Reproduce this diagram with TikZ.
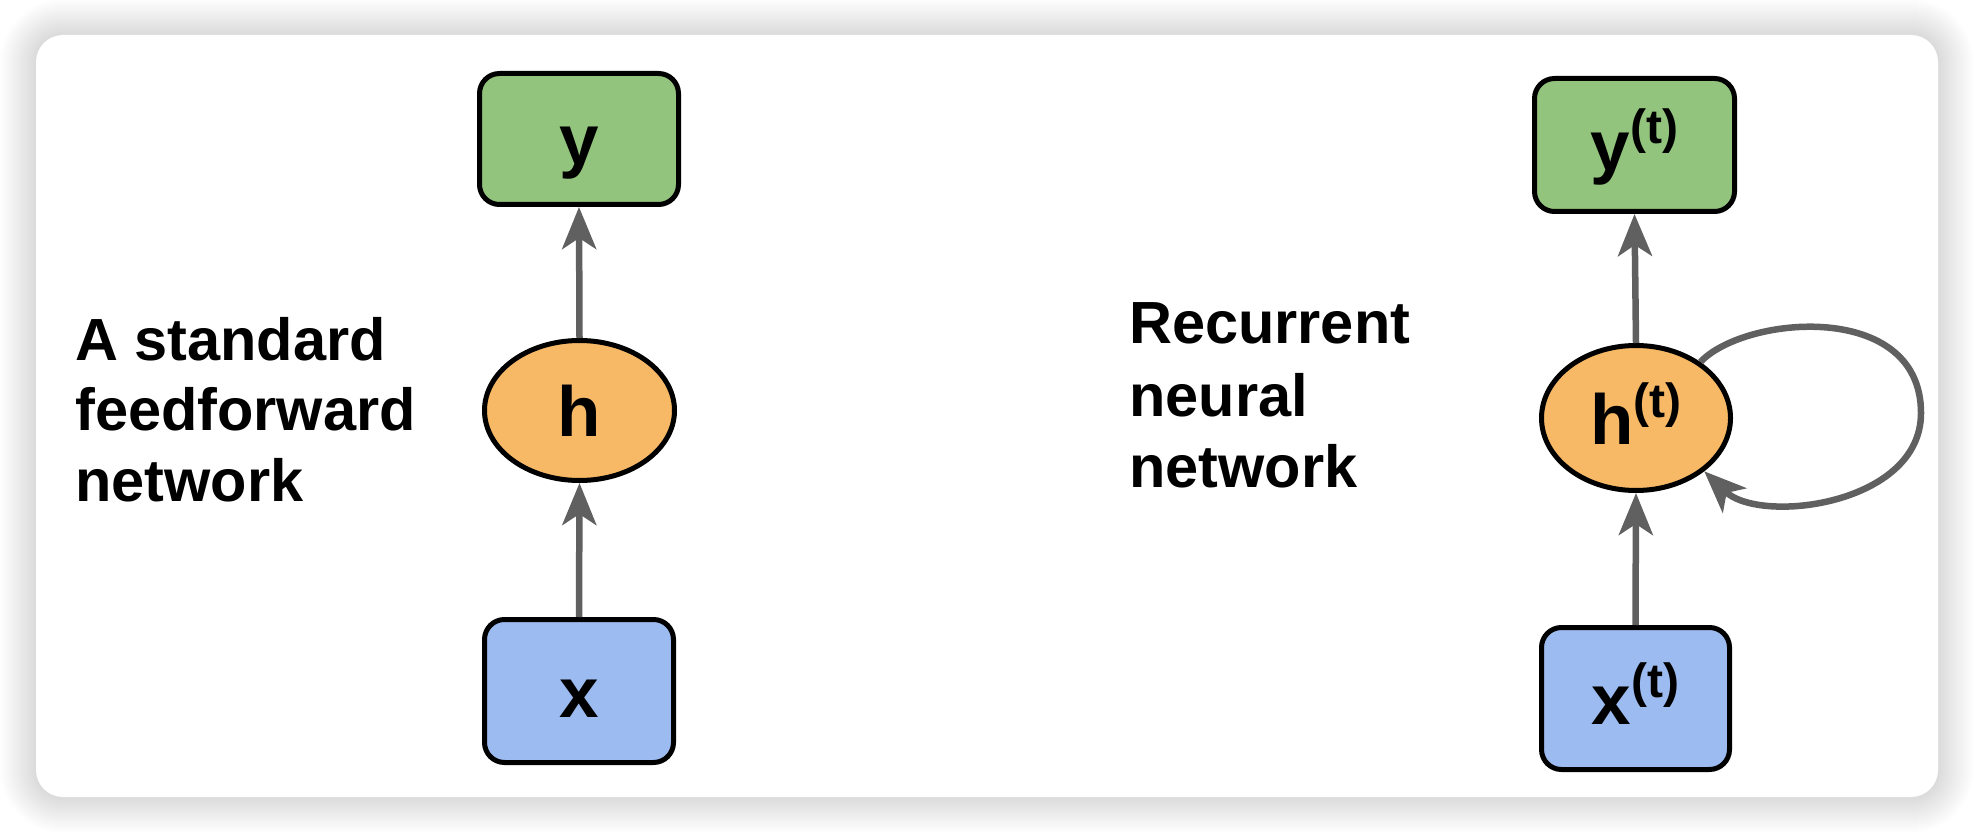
\documentclass[tikz,border=0pt]{standalone}
\usepackage{fontspec}
\setmainfont{Liberation Sans}
\usetikzlibrary{arrows.meta,shapes.geometric}
\definecolor{boxgreen}{HTML}{93C47D}
\definecolor{boxorange}{HTML}{F8B967}
\definecolor{boxblue}{HTML}{9CBBF0}
\definecolor{arrowgray}{HTML}{606060}
\newcommand\supT{\raisebox{27pt}{\fontsize{48}{48}\selectfont(t)}}
\begin{document}
\begin{tikzpicture}[x=1pt,y=-1pt,
  nodebase/.style={draw=black, line width=5pt, inner sep=0pt, text height=52pt, text depth=0pt,
    font=\bfseries\fontsize{71}{71}\selectfont},
  rbox/.style={nodebase, rectangle, rounded corners=20pt},
  hiddenunit/.style={nodebase, ellipse},
  link/.style={draw=arrowgray, line width=6.5pt, -{Stealth[length=42pt,width=34pt,inset=11pt]}},
  caption/.style={anchor=base west, inner sep=0pt, font=\bfseries\fontsize{59.5}{71}\selectfont}]
\useasboundingbox (0,0) rectangle (1974,834);
% card shadow
\foreach \k in {1,...,36} {
  \pgfmathsetmacro\rr{27+\k}
  \fill[black, opacity=0.0035, rounded corners=\rr pt] ({36-\k},{35-\k}) rectangle ({1938+\k},{797+\k});
}
\fill[white, rounded corners=27pt] (36,35) rectangle (1938,797);

% left: feedforward
\node[rbox, fill=boxgreen, minimum width=199pt, minimum height=131pt] (yL) at (579,139) {y};
\node[hiddenunit, fill=boxorange, minimum width=190pt, minimum height=140pt] (hL) at (579.5,410.5) {h};
\node[rbox, fill=boxblue, minimum width=189pt, minimum height=143pt] (xL) at (579,691) {x};
\draw[link] (hL.north) -- (yL.south);
\draw[link] (xL.north) -- (hL.south);

\node[caption] (ffA) at (75,360) {A standard};
\node[caption] (ffB) at (75,430) {feedforward};
\node[caption] (ffC) at (75,501) {network};

% right: recurrent
\node[rbox, fill=boxgreen, minimum width=200pt, minimum height=133pt] (yR) at (1634.5,145) {y\supT};
\node[hiddenunit, fill=boxorange, minimum width=189pt, minimum height=145pt] (hR) at (1636,418) {h\supT};
\node[rbox, fill=boxblue, minimum width=188pt, minimum height=142pt] (xR) at (1635.5,698.5) {x\supT};
\draw[link] (hR.north) -- (yR.south);
\draw[link] (xR.north) -- (hR.south);
\coordinate (loopR) at (1921,413);
\draw[link] (hR.41) .. controls (1745,315) and (1921,300) .. (loopR)
  .. controls (1921,505) and (1760,525) .. (hR.-38);

\node[caption] (rnA) at (1129,344) {Recurrent};
\node[caption] (rnB) at (1129,416) {neural};
\node[caption] (rnC) at (1129,487) {network};
\end{tikzpicture}
\end{document}
